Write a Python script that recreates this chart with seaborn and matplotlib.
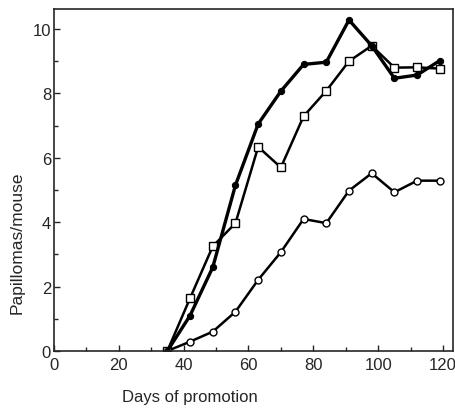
import matplotlib
matplotlib.use("Agg")
import matplotlib.pyplot as plt
from matplotlib.ticker import MultipleLocator
import pandas as pd
import seaborn as sns

# Days of promotion (weekly readings)
days = [35, 42, 49, 56, 63, 70, 77, 84, 91, 98, 105, 112, 119]

# Papillomas per mouse
filled_circles = [0, 1.1, 2.6, 5.15, 7.05, 8.07, 8.9, 8.97, 10.28, 9.48, 8.47, 8.57, 9.02]
open_squares = [0, 1.64, 3.25, 3.97, 6.34, 5.7, 7.29, 8.08, 9.0, 9.48, 8.8, 8.81, 8.77]
open_circles = [0, 0.29, 0.6, 1.22, 2.21, 3.07, 4.1, 3.97, 4.98, 5.52, 4.93, 5.29, 5.29]

sns.set_style("ticks")
plt.rcParams['font.family'] = ['Liberation Sans', 'DejaVu Sans']

df_f = pd.DataFrame({"day": days, "val": filled_circles})
df_s = pd.DataFrame({"day": days, "val": open_squares})
df_o = pd.DataFrame({"day": days, "val": open_circles})

fig = plt.figure(figsize=(4.56, 4.10), dpi=100)
ax = fig.add_axes([0.118, 0.1415, 0.875, 0.834])

sns.lineplot(data=df_o, x="day", y="val", ax=ax, color="black", lw=1.8,
             marker="o", markersize=5, markerfacecolor="white",
             markeredgecolor="black", markeredgewidth=1.0)
sns.lineplot(data=df_s, x="day", y="val", ax=ax, color="black", lw=1.8,
             marker="s", markersize=6, markerfacecolor="white",
             markeredgecolor="black", markeredgewidth=1.0)
sns.lineplot(data=df_f, x="day", y="val", ax=ax, color="black", lw=2.4,
             marker="o", markersize=4.5, markerfacecolor="black",
             markeredgecolor="black")

ax.set_xlim(0, 123)
ax.set_ylim(0, 10.62)
ax.xaxis.set_major_locator(MultipleLocator(20))
ax.xaxis.set_minor_locator(MultipleLocator(10))
ax.yaxis.set_major_locator(MultipleLocator(2))
ax.yaxis.set_minor_locator(MultipleLocator(1))
ax.tick_params(which="both", direction="in", width=1.0, labelsize=12, pad=2)
ax.tick_params(axis="x", which="both", pad=4)
ax.tick_params(which="major", length=4)
ax.tick_params(which="minor", length=3)
for sp in ax.spines.values():
    sp.set_linewidth(1.2)

ax.set_xlabel("Days of promotion", fontsize=12)
ax.xaxis.set_label_coords(0.34, -0.111)
ax.set_ylabel("Papillomas/mouse", fontsize=12.5)
ax.yaxis.set_label_coords(-0.073, 0.32)

fig.savefig("out.png", dpi=100)
